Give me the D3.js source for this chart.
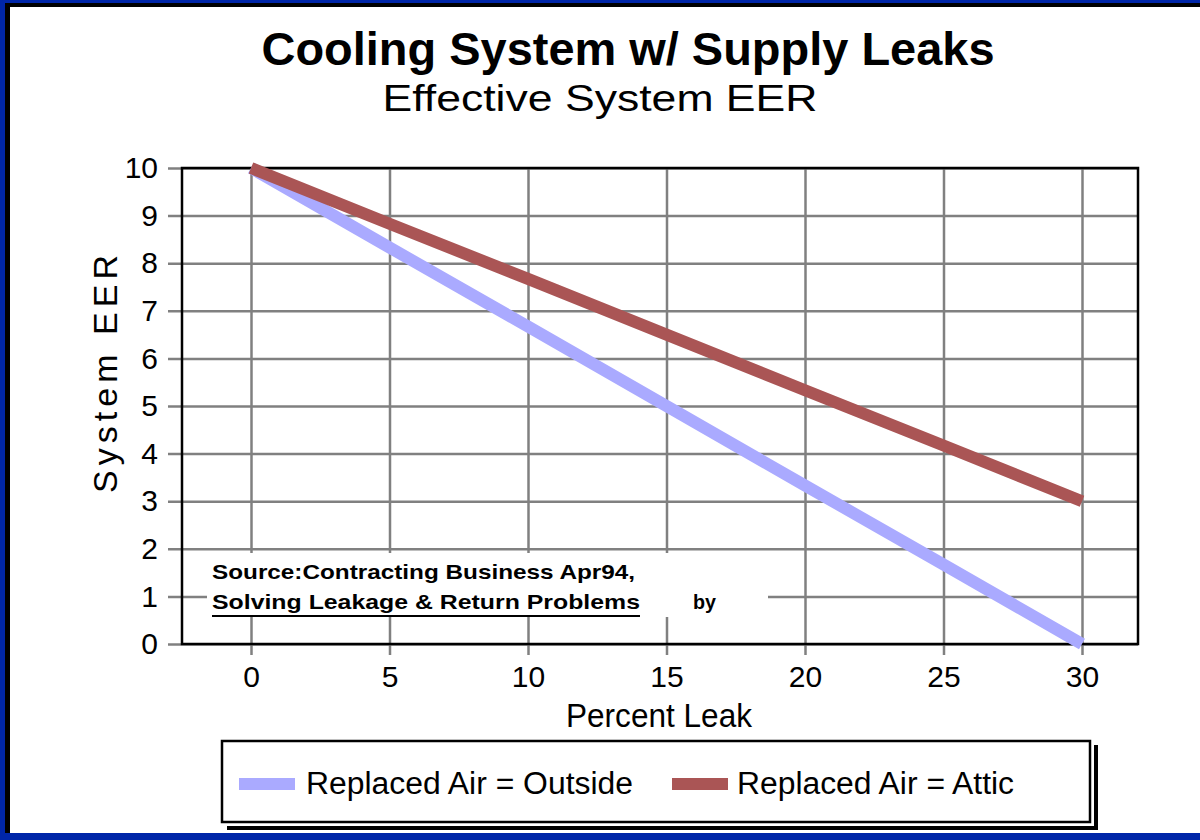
<!DOCTYPE html>
<html>
<head>
<meta charset="utf-8">
<script src="https://cdn.jsdelivr.net/npm/d3@7"></script>
<style>
  body { margin: 0; background: #fff; }
  svg { display: block; font-family: Arial, "Liberation Sans", sans-serif; }
</style>
</head>
<body>
<svg id="chart" width="1200" height="840"></svg>
<script>
// chart values
const leakPct = [0, 5, 10, 15, 20, 25, 30];
const eerOutside = [10, 8.33, 6.67, 5, 3.33, 1.67, 0];
const eerAttic = [10, 8.83, 7.67, 6.5, 5.33, 4.17, 3];
const xTicks = [0, 5, 10, 15, 20, 25, 30];
const yTicks = [0, 1, 2, 3, 4, 5, 6, 7, 8, 9, 10];
const seriesNames = ['Replaced Air = Outside', 'Replaced Air = Attic'];
const seriesColors = ['#aaaaff', '#aa5555'];

const svg = d3.select('#chart');
const W = 1200, H = 840;
const FRAME = { left: 182, right: 1138, top: 168, bottom: 644 };

// slide border
svg.append('rect').attr('width', W).attr('height', H).attr('fill', '#0026a8');
svg.append('rect').attr('x', 5).attr('y', 3).attr('width', W - 5).attr('height', 830).attr('fill', '#000');
svg.append('rect').attr('x', 10).attr('y', 7).attr('width', W - 10).attr('height', 826).attr('fill', '#fff');

const x = d3.scaleLinear().domain([0, 30]).range([251, 1082]);
const y = d3.scaleLinear().domain([0, 10]).range([644, 168]);

// titles
svg.append('text').attr('x', 628).attr('y', 65).attr('text-anchor', 'middle')
  .attr('font-size', 46).attr('font-weight', 'bold')
  .attr('textLength', 733).attr('lengthAdjust', 'spacingAndGlyphs')
  .text('Cooling System w/ Supply Leaks');
svg.append('text').attr('x', 600).attr('y', 111).attr('text-anchor', 'middle')
  .attr('font-size', 37)
  .attr('textLength', 435).attr('lengthAdjust', 'spacingAndGlyphs')
  .text('Effective System EER');

// grid via axes
const yAxis = d3.axisLeft(y).tickValues(yTicks).tickSize(-(FRAME.right - 168)).tickPadding(10);
const gy = svg.append('g').attr('transform', 'translate(168,0)').call(yAxis);
const xAxis = d3.axisBottom(x).tickValues(xTicks).tickSize(-(655 - FRAME.top)).tickPadding(11);
const gx = svg.append('g').attr('transform', 'translate(0,655)').call(xAxis);
[gx, gy].forEach(g => {
  g.select('.domain').remove();
  g.selectAll('line').attr('stroke', '#808080').attr('stroke-width', 2.5);
  g.selectAll('text').attr('font-size', 30).attr('fill', '#000')
    .attr('font-family', 'Arial, "Liberation Sans", sans-serif');
});

// plot frame
svg.append('rect')
  .attr('x', FRAME.left).attr('y', FRAME.top)
  .attr('width', FRAME.right - FRAME.left).attr('height', FRAME.bottom - FRAME.top)
  .attr('fill', 'none').attr('stroke', '#000').attr('stroke-width', 2.5);

// source note box
svg.append('rect').attr('x', 207).attr('y', 553).attr('width', 561).attr('height', 64).attr('fill', '#fff');
const note = svg.append('g').attr('font-weight', 'bold').attr('font-size', 21);
note.append('text').attr('x', 212).attr('y', 579)
  .attr('textLength', 423).attr('lengthAdjust', 'spacingAndGlyphs')
  .text('Source:Contracting Business Apr94,');
note.append('text').attr('x', 212).attr('y', 609)
  .attr('textLength', 428).attr('lengthAdjust', 'spacingAndGlyphs')
  .text('Solving Leakage & Return Problems');
note.append('line').attr('x1', 212).attr('x2', 640).attr('y1', 616).attr('y2', 616)
  .attr('stroke', '#000').attr('stroke-width', 2);
note.append('text').attr('x', 693).attr('y', 609)
  .attr('textLength', 23).attr('lengthAdjust', 'spacingAndGlyphs')
  .text('by');

// lines
const line = d3.line().x(d => x(d[0])).y(d => y(d[1]));
[eerOutside, eerAttic].forEach((vals, i) => {
  svg.append('path')
    .datum(leakPct.map((p, j) => [p, vals[j]]))
    .attr('d', line)
    .attr('fill', 'none')
    .attr('stroke', seriesColors[i])
    .attr('stroke-width', 12)
    .attr('stroke-linecap', 'butt')
    .attr('stroke-linejoin', 'round');
});

// axis titles
svg.append('text').attr('x', 659).attr('y', 727).attr('text-anchor', 'middle')
  .attr('font-size', 33)
  .attr('textLength', 186).attr('lengthAdjust', 'spacingAndGlyphs')
  .text('Percent Leak');
svg.append('text')
  .attr('transform', 'translate(117,374) rotate(-90)')
  .attr('text-anchor', 'middle')
  .attr('font-size', 34)
  .attr('textLength', 238).attr('lengthAdjust', 'spacing')
  .text('System EER');

// legend with shadow
const LG = { x: 222, y: 741, w: 868, h: 81 };
svg.append('path')
  .attr('d', `M${LG.x + 5},${LG.y + LG.h + 6} H${LG.x + LG.w + 6} V${LG.y + 4}`)
  .attr('fill', 'none').attr('stroke', '#000').attr('stroke-width', 4);
svg.append('rect').attr('x', LG.x).attr('y', LG.y).attr('width', LG.w).attr('height', LG.h)
  .attr('fill', '#fff').attr('stroke', '#000').attr('stroke-width', 2.5);
const legendItems = [
  { sx: 239, tx: 306, tw: 327 },
  { sx: 672, tx: 737, tw: 277 }
];
legendItems.forEach((it, i) => {
  svg.append('rect').attr('x', it.sx).attr('y', 778).attr('width', 56).attr('height', 12)
    .attr('fill', seriesColors[i]);
  svg.append('text').attr('x', it.tx).attr('y', 794)
    .attr('font-size', 31)
    .attr('textLength', it.tw).attr('lengthAdjust', 'spacingAndGlyphs')
    .text(seriesNames[i]);
});
</script>
</body>
</html>
